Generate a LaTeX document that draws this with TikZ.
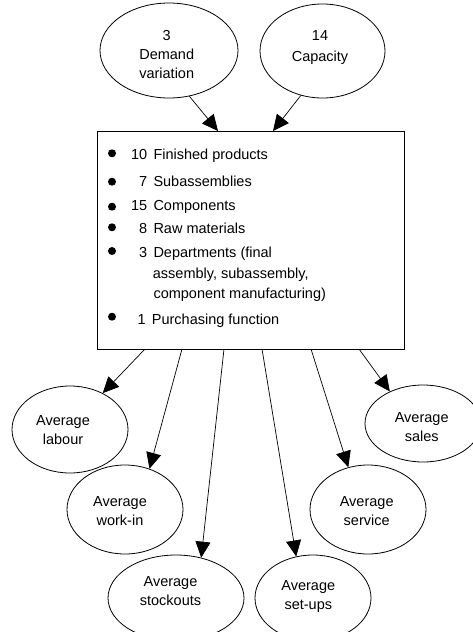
\documentclass[tikz,border=0pt]{standalone}
\usepackage{fontspec}
\setmainfont{Liberation Sans}
\usetikzlibrary{arrows.meta,shapes.geometric}
\begin{document}
\begin{tikzpicture}[x=1pt,y=-1pt,
  oval/.style={draw,ellipse,inner sep=0pt,line width=0.8pt},
  lbl/.style={align=center,inner sep=0pt,font=\fontsize{14.5}{19}\selectfont},
  itemtxt/.style={anchor=base west,inner sep=0pt,font=\fontsize{14.5}{19}\selectfont},
  itemnum/.style={anchor=base east,inner sep=0pt,font=\fontsize{14.5}{19}\selectfont},
  arr/.style={-{Triangle[length=16pt,width=15pt]},line width=0.7pt},
  bullet/.style={circle,fill,inner sep=0pt,minimum size=8pt}
]
\useasboundingbox (0,0) rectangle (473,632);

% central box
\node[draw,line width=0.9pt,minimum width=307pt,minimum height=218pt,inner sep=0pt] (box) at (250.5,240) {};

% ellipses
\node[oval,minimum width=138pt,minimum height=95pt] (demand) at (169,50.5) {};
\node[oval,minimum width=125pt,minimum height=94pt] (capacity) at (322.5,51) {};
\node[oval,minimum width=116pt,minimum height=87pt] (labour) at (70,429.5) {};
\node[oval,minimum width=116pt,minimum height=89pt] (workin) at (125,509.5) {};
\node[oval,minimum width=136pt,minimum height=86pt] (stockouts) at (176,598) {};
\node[oval,minimum width=116pt,minimum height=86pt] (setups) at (313,598) {};
\node[oval,minimum width=116pt,minimum height=89pt] (service) at (368,509.5) {};
\node[oval,minimum width=116pt,minimum height=77pt] (sales) at (423,423.5) {};

% ellipse texts
\node[lbl] (demand-t) at (166.7,54.4) {3\\Demand\\variation};
\node[lbl,font=\fontsize{14.5}{21}\selectfont] (capacity-t) at (320,47.5) {14\\Capacity};
\node[lbl] (labour-t) at (63,429.8) {Average\\labour};
\node[lbl] (workin-t) at (120,510.6) {Average\\work-in};
\node[lbl] (stockouts-t) at (170.5,590.6) {Average\\stockouts};
\node[lbl] (setups-t) at (308.3,596.8) {Average\\set-ups};
\node[lbl] (service-t) at (366.7,511.4) {Average\\service};
\node[lbl] (sales-t) at (421.7,427.3) {Average\\sales};

% box items
\node[bullet] (b1) at (112,153.3) {};
\node[bullet] (b2) at (112,181.7) {};
\node[bullet] (b3) at (112,206.7) {};
\node[bullet] (b4) at (112,227.3) {};
\node[bullet] (b5) at (112,251) {};
\node[bullet] (b6) at (112,316.7) {};

\node[itemnum] (n1) at (147.5,159.3) {10};
\node[itemtxt] (t1) at (153.3,159.3) {Finished products};
\node[itemnum] (n2) at (147.5,186.7) {7};
\node[itemtxt] (t2) at (153.3,186.7) {Subassemblies};
\node[itemnum] (n3) at (147.5,210.7) {15};
\node[itemtxt] (t3) at (153.3,210.7) {Components};
\node[itemnum] (n4) at (147.5,233.3) {8};
\node[itemtxt] (t4) at (153.3,233.3) {Raw materials};
\node[itemnum] (n5) at (147.5,257.7) {3};
\node[itemtxt] (t5) at (153.3,257.7) {Departments (final};
\node[itemtxt] (t5b) at (152.7,278.8) {assembly, subassembly,};
\node[itemtxt] (t5c) at (153.3,298.8) {component manufacturing)};
\node[itemnum] (n6) at (146,324.3) {1};
\node[itemtxt] (t6) at (151.7,324.3) {Purchasing function};

% connector end points on the box
\coordinate (in1) at (218,131);
\coordinate (in2) at (273,131);
\coordinate (o1) at (145,349);
\coordinate (o2) at (182,349);
\coordinate (o3) at (224,349);
\coordinate (o4) at (262,349);
\coordinate (o5) at (311,349);
\coordinate (o6) at (359,349);

% connectors
\draw[arr] (demand.-66) -- (in1);
\draw[arr] (capacity.-116) -- (in2);
\draw[arr] (o1) -- (labour.48.6);
\draw[arr] (o2) -- (workin.59.9);
\draw[arr] (o3) -- (stockouts.58.6);
\draw[arr] (o4) -- (setups.112.7);
\draw[arr] (o5) -- (service.115.3);
\draw[arr] (o6) -- (sales.136);
\end{tikzpicture}
\end{document}
